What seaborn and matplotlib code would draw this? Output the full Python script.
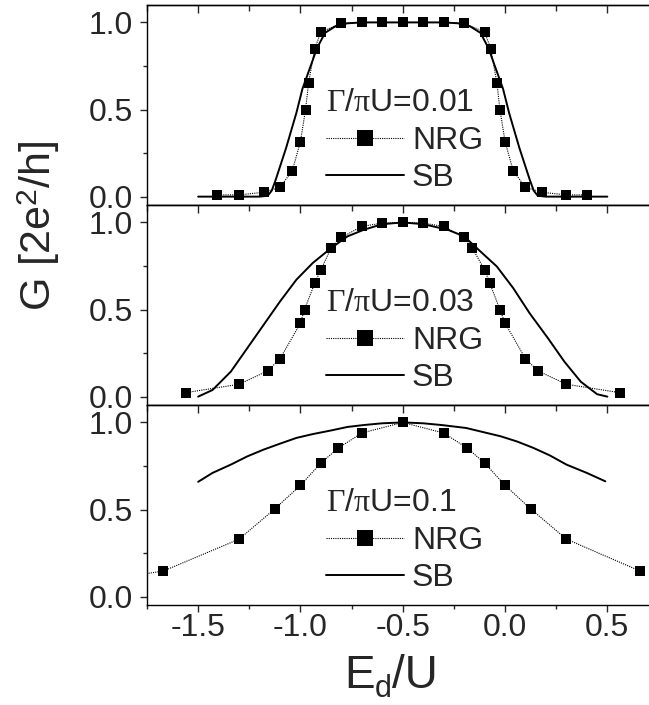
import matplotlib
matplotlib.use("Agg")
import matplotlib.pyplot as plt
import seaborn as sns
import pandas as pd
from matplotlib.ticker import MultipleLocator

# ---------------- data ----------------
titles = [r"$\Gamma$/$\pi$U=0.01", r"$\Gamma$/$\pi$U=0.03", r"$\Gamma$/$\pi$U=0.1"]

nrg1_x = [-1.41, -1.30, -1.18, -1.10, -1.04, -1.00, -0.975, -0.96, -0.93, -0.90,
          -0.80, -0.70, -0.60, -0.50, -0.40, -0.30, -0.20,
          -0.10, -0.07, -0.04, -0.025, 0.0, 0.04, 0.10, 0.18, 0.30, 0.40]
nrg1_y = [0.01, 0.01, 0.025, 0.054, 0.148, 0.316, 0.50, 0.655, 0.85, 0.945,
          0.996, 1.0, 1.0, 1.0, 1.0, 1.0, 0.996,
          0.945, 0.85, 0.655, 0.50, 0.316, 0.148, 0.054, 0.025, 0.01, 0.01]
sb1_x = [-1.50, -1.35, -1.20, -1.16, -1.14, -1.12, -1.07, -1.02, -0.99, -0.95, -0.92, -0.88,
         -0.83, -0.77, -0.70, -0.60, -0.50, -0.40, -0.30, -0.23, -0.17, -0.12, -0.08,
         -0.05, -0.01, 0.02, 0.07, 0.12, 0.14, 0.16, 0.20, 0.35, 0.50]
sb1_y = [0.0, 0.0, 0.0, 0.005, 0.035, 0.10, 0.28, 0.48, 0.62, 0.75, 0.85, 0.94,
         0.977, 0.995, 1.0, 1.0, 1.0, 1.0, 1.0, 0.995, 0.977, 0.94, 0.85,
         0.75, 0.62, 0.48, 0.28, 0.10, 0.035, 0.005, 0.0, 0.0, 0.0]

nrg2_x = [-1.56, -1.30, -1.16, -1.10, -1.00, -0.98, -0.93, -0.90, -0.85, -0.80, -0.70, -0.60,
          -0.50, -0.40, -0.30, -0.20, -0.16, -0.10, -0.075, -0.025, 0.0, 0.10, 0.16, 0.30, 0.56]
nrg2_y = [0.023, 0.071, 0.148, 0.217, 0.422, 0.50, 0.652, 0.728, 0.853, 0.914, 0.977, 0.996,
          1.0, 0.996, 0.977, 0.914, 0.853, 0.728, 0.652, 0.50, 0.422, 0.217, 0.148, 0.071, 0.023]
sb2_x = [-1.50, -1.43, -1.34, -1.26, -1.18, -1.10, -1.02, -0.94, -0.85, -0.77, -0.69, -0.60,
         -0.50, -0.40, -0.28, -0.20, -0.12, -0.04, 0.04, 0.12, 0.21, 0.29, 0.37, 0.45, 0.50]
sb2_y = [0.0, 0.038, 0.144, 0.278, 0.412, 0.546, 0.671, 0.767, 0.853, 0.920, 0.958, 0.99,
         1.0, 0.99, 0.958, 0.92, 0.833, 0.747, 0.623, 0.479, 0.335, 0.201, 0.086, 0.014, 0.0]

nrg3_x = [-2.00, -1.67, -1.30, -1.125, -1.00, -0.90, -0.815, -0.70, -0.50,
          -0.30, -0.185, -0.10, 0.0, 0.125, 0.30, 0.66]
nrg3_y = [0.088, 0.147, 0.33, 0.504, 0.639, 0.767, 0.853, 0.939, 1.0,
          0.939, 0.853, 0.767, 0.639, 0.504, 0.33, 0.147]
sb3_x = [-1.50, -1.43, -1.34, -1.26, -1.18, -1.10, -1.02, -0.94, -0.85, -0.77, -0.69, -0.60,
         -0.50, -0.40, -0.31, -0.19, -0.02, 0.06, 0.14, 0.22, 0.30, 0.40, 0.49]
sb3_y = [0.659, 0.71, 0.758, 0.805, 0.844, 0.878, 0.911, 0.933, 0.954, 0.974, 0.985, 0.995,
         1.0, 0.995, 0.985, 0.968, 0.92, 0.89, 0.853, 0.81, 0.758, 0.71, 0.662]

x_ticks = [-1.5, -1.0, -0.5, 0.0, 0.5]
y_ticks = [0.0, 0.5, 1.0]
series_labels = ["NRG", "SB"]

panels = [(nrg1_x, nrg1_y, sb1_x, sb1_y),
          (nrg2_x, nrg2_y, sb2_x, sb2_y),
          (nrg3_x, nrg3_y, sb3_x, sb3_y)]

# ---------------- style ----------------
sns.set_style("ticks")
plt.rcParams["font.family"] = ["Liberation Sans", "DejaVu Sans"]
plt.rcParams["mathtext.fontset"] = "custom"
plt.rcParams["mathtext.rm"] = "Liberation Serif"
plt.rcParams["mathtext.it"] = "Liberation Serif"
plt.rcParams["mathtext.sf"] = "Liberation Sans"

W, H = 649, 705
fig = plt.figure(figsize=(W / 100, H / 100), dpi=100)

left = 147 / W
width = 1.0 - left + 0.002
ph = 200 / H
bottoms = [1 - 205 / H, 1 - 405 / H, 1 - 605 / H]

for i, (nx, ny, sx, sy) in enumerate(panels):
    ax = fig.add_axes([left, bottoms[i], width, ph])
    dn = pd.DataFrame({"x": nx, "y": ny})
    ds = pd.DataFrame({"x": sx, "y": sy})
    sns.lineplot(data=dn, x="x", y="y", ax=ax, color="black", linestyle=(0, (1, 1)),
                 linewidth=0.8, marker="s", markersize=7.8, markeredgewidth=0,
                 markerfacecolor="black", estimator=None, sort=False,
                 label=series_labels[0])
    sns.lineplot(data=ds, x="x", y="y", ax=ax, color="black", linewidth=1.4,
                 estimator=None, sort=False, label=series_labels[1])
    ax.set_xlim(-1.75, 0.71)
    ax.set_ylim(-0.048, 1.1)
    ax.set_xlabel("")
    ax.set_ylabel("")
    ax.set_yticks(y_ticks)
    ax.set_yticklabels([f"{v:.1f}" for v in y_ticks])
    ax.yaxis.set_minor_locator(MultipleLocator(0.25))
    ax.set_xticks(x_ticks)
    ax.xaxis.set_minor_locator(MultipleLocator(0.25))
    for s in ax.spines.values():
        s.set_linewidth(1.0)
        s.set_color("black")
    ax.spines["right"].set_visible(False)
    ax.tick_params(axis="y", which="major", direction="out", length=5, width=1,
                   labelsize=23, pad=5)
    ax.tick_params(axis="y", which="minor", direction="out", length=3, width=1)
    if i < 2:
        ax.tick_params(axis="x", which="both", bottom=False, labelbottom=False)
    else:
        ax.set_xticklabels([f"{v:.1f}" for v in x_ticks])
        ax.tick_params(axis="x", which="major", direction="out", length=5, width=1,
                       labelsize=23, pad=1)
        ax.tick_params(axis="x", which="minor", direction="out", length=3, width=1)
    sec = ax.secondary_xaxis("top")
    sec.set_xticks(x_ticks)
    sec.xaxis.set_minor_locator(MultipleLocator(0.25))
    sec.tick_params(axis="x", which="major", direction="in", length=6, width=1,
                    labeltop=False)
    sec.tick_params(axis="x", which="minor", direction="in", length=4, width=1)
    sec.spines["top"].set_linewidth(1.0)

    leg = ax.legend(title=titles[i], loc="upper left", bbox_to_anchor=(0.355, 0.585),
                    frameon=False, fontsize=23, title_fontsize=23, handlelength=2.45,
                    handletextpad=0.25, labelspacing=0.2, borderpad=0, borderaxespad=0,
                    alignment="left")
    leg._legend_box.sep = 6
    leg.legend_handles[0].set_markersize(12)

fig.text(0.06, 0.68, r"G [2e$^{\mathsf{2}}$/h]", rotation=90, fontsize=31,
         ha="center", va="center")

# x-axis label composed as E, lowered subscript d, and /U
fig.canvas.draw()
renderer = fig.canvas.get_renderer()
base_y = 1 - 688 / H
tE = fig.text(0, base_y, "E", fontsize=33, va="baseline", ha="left")
td = fig.text(0, 1 - 697 / H, "d", fontsize=22, va="baseline", ha="left")
tU = fig.text(0, base_y, "/U", fontsize=33, va="baseline", ha="left")
wE = tE.get_window_extent(renderer).width / W
wd = td.get_window_extent(renderer).width / W
wU = tU.get_window_extent(renderer).width / W
total = wE + wd + wU
x0 = 391 / W - total / 2
tE.set_x(x0)
td.set_x(x0 + wE)
tU.set_x(x0 + wE + wd)

fig.savefig("out.png", dpi=100)
